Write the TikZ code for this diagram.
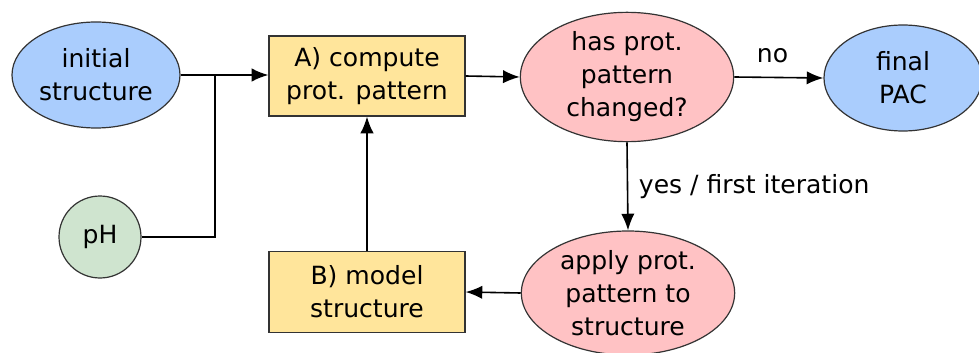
\documentclass[tikz,border=0pt]{standalone}
\usepackage{fontspec}
\setmainfont{DejaVu Sans}
\usepackage{xcolor}
\usepackage{tikz}
\usetikzlibrary{arrows.meta,positioning,shapes.geometric,calc}
\definecolor{protBlue}{RGB}{170,205,253}
\definecolor{protRed}{RGB}{255,194,196}
\definecolor{protGold}{RGB}{255,229,155}
\definecolor{protGreen}{RGB}{207,228,207}
\colorlet{protLine}{black!80}
\tikzset{
  >=Latex,
  font=\fontsize{18.8}{24.8}\selectfont,
  % shapes: ellipses for start/end and decisions, boxes for steps
  endpoint/.style={
    ellipse,
    fill=protBlue,
    draw=protLine,
    line width=0.9pt,
    align=center,
    inner sep=0pt
  },
  decision/.style={
    ellipse,
    fill=protRed,
    draw=protLine,
    line width=0.9pt,
    align=center,
    inner sep=0pt,
    minimum width=160pt
  },
  stepbox/.style={
    rectangle,
    fill=protGold,
    draw=protLine,
    line width=0.9pt,
    align=center,
    minimum width=147pt,
    minimum height=60pt
  },
  param/.style={
    circle,
    fill=protGreen,
    draw=protLine,
    line width=0.9pt,
    minimum size=61.5pt,
    inner sep=0pt
  },
  arrow/.style={
    -{Latex[length=12.5pt,width=10pt]},
    line width=1.2pt,
    draw=black
  },
  plainline/.style={
    line width=1.2pt,
    draw=black
  },
  lab/.style={
    inner sep=4pt
  }
}
\begin{document}
\begin{tikzpicture}[x=0.75pt,y=-0.75pt]

\useasboundingbox (0,0) rectangle (979,353);

\node[endpoint, minimum width=126pt, minimum height=79.5pt] (initial) at (96,75)
{initial\\structure};

\node[stepbox] (compute) at (367,76) {A) compute\\prot. pattern};

\node[param] (ph) at (100,237) {pH};

\node[stepbox, minimum height=61pt] (model) at (367,292) {B) model\\structure};

\node[decision, minimum height=97pt] (changed) at (627,77)
{has prot.\\pattern\\changed?};

\node[endpoint, minimum width=118.5pt, minimum height=79.5pt] (final) at (903,78)
{final\\PAC};

\node[decision, minimum height=93pt] (apply) at (628,293)
{apply prot.\\pattern to\\structure};

% pH joins the main input line
\coordinate (join) at (215,75);

\draw[arrow] (initial.east |- join) -- (compute.west |- join);
\draw[plainline] (ph.east) -| (join);
\draw[arrow] (compute.east) -- (changed.west);
\draw[arrow] (changed.east) -- node[lab, above=6pt, pos=0.43] {no} (final.west);
\draw[arrow] (changed.south) -- node[lab, right=4pt, pos=0.5] {yes / first iteration} (apply.north);
\draw[arrow] (apply.west) -- (model.east);
\draw[arrow] (model.north) -- (compute.south);

\end{tikzpicture}
\end{document}
